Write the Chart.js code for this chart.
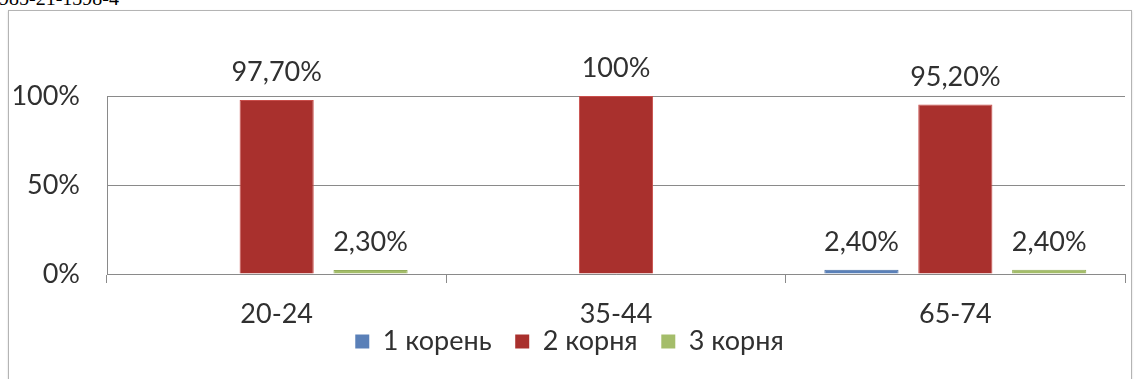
<!DOCTYPE html>
<html>
<head>
<meta charset="utf-8">
<script src="https://cdn.jsdelivr.net/npm/chart.js@4/dist/chart.umd.min.js"></script>
<style>
  body { margin: 0; background: #fff; width: 1134px; height: 379px; overflow: hidden; position: relative; }
  #ref { position: absolute; left: -1px; top: -12px; font: 20px "Liberation Serif", serif; line-height: 20px; color: #000; }
  #frame { position: absolute; left: 8px; top: 10px; width: 1122px; height: 380px; border: 1px solid #b4b4b4; box-shadow: 0 1px 2px #d8d8d8; }
  #c { position: absolute; left: 0; top: 0; }
</style>
</head>
<body>
<div id="ref">985-21-1398-4</div>
<div id="frame"></div>
<canvas id="c" width="1134" height="379"></canvas>
<script>
// age groups
const groups = ['20-24', '35-44', '65-74'];
// share of teeth by number of roots, %
const oneRoot = [null, null, 2.4];
const twoRoots = [97.7, 100, 95.2];
const threeRoots = [2.3, null, 2.4];
const seriesNames = ['1 корень', '2 корня', '3 корня'];
const yTicks = [0, 50, 100];

const FONT = { family: 'Lato', size: 27, lineHeight: 1 };
const TEXT = '#303030';

function pct(v) {
    if (Number.isInteger(v)) return v + '%';
    return v.toFixed(2).replace('.', ',') + '%';
}

const valueLabels = {
    id: 'valueLabels',
    afterDatasetsDraw(chart) {
        const ctx = chart.ctx;
        ctx.save();
        ctx.font = FONT.size + 'px ' + FONT.family;
        ctx.fillStyle = TEXT;
        ctx.textAlign = 'center';
        ctx.textBaseline = 'alphabetic';
        chart.data.datasets.forEach((ds, i) => {
            chart.getDatasetMeta(i).data.forEach((bar, j) => {
                const v = ds.data[j];
                if (v == null) return;
                ctx.fillText(pct(v), bar.x, bar.y - 19);
            });
        });
        ctx.restore();
    }
};

new Chart(document.getElementById('c'), {
    type: 'bar',
    data: {
        labels: groups,
        datasets: [
            { label: seriesNames[0], data: oneRoot, backgroundColor: '#5a80b8', borderColor: '#4a6fa5', borderWidth: 1 },
            { label: seriesNames[1], data: twoRoots, backgroundColor: '#a9302d', borderColor: '#c94d4a', borderWidth: 1 },
            { label: seriesNames[2], data: threeRoots, backgroundColor: '#a4bd6a', borderColor: '#93ad5a', borderWidth: 1 }
        ]
    },
    options: {
        responsive: false,
        animation: false,
        categoryPercentage: 0.83,
        barPercentage: 0.79,
        layout: { padding: { top: 96, left: 14, right: 9, bottom: 14 } },
        plugins: {
            tooltip: { enabled: false },
            legend: {
                position: 'bottom',
                labels: {
                    font: FONT,
                    color: TEXT,
                    boxWidth: 14,
                    boxHeight: 14,
                    padding: 0,
                    generateLabels(chart) {
                        const items = Chart.defaults.plugins.legend.labels.generateLabels(chart);
                        items.forEach((it, i) => {
                            it.lineWidth = 0;
                            if (i < items.length - 1) it.text += '\u2003\u2009';
                        });
                        return items;
                    }
                }
            }
        },
        scales: {
            x: {
                grid: { drawOnChartArea: false, tickLength: 9, color: '#8a8a8a' },
                border: { color: '#8a8a8a' },
                ticks: { font: FONT, color: TEXT, padding: 18 },
                afterFit(scale) { scale.height = 54; }
            },
            y: {
                min: 0,
                max: 100,
                afterBuildTicks(scale) { scale.ticks = yTicks.map(v => ({ value: v })); },
                grid: { color: '#8a8a8a', drawTicks: false },
                border: { color: '#8a8a8a' },
                ticks: { font: FONT, color: TEXT, padding: 27, callback: v => v + '%' },
                afterFit(scale) { scale.width = 93; }
            }
        }
    },
    plugins: [valueLabels]
});
</script>
</body>
</html>
